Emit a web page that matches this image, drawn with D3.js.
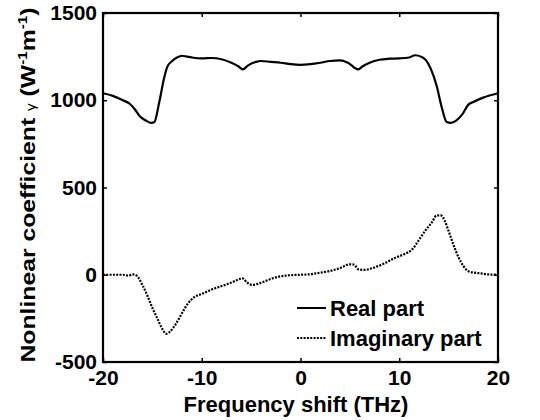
<!doctype html>
<html>
<head>
<meta charset="utf-8">
<title>Nonlinear coefficient</title>
<script src="https://d3js.org/d3.v7.min.js"></script>
<style>
body { margin: 0; background: white; }
text { font-family: "Liberation Sans", Arial, sans-serif; font-weight: bold; fill: black; }
</style>
</head>
<body>
<div id="chart"></div>
<script>
// frequency shift (THz) and gamma values
var realFreq = [-20, -19, -18, -17.3, -16.8, -16.3, -15.7, -15.1, -14.8, -14.3, -13.8, -13.5, -13, -12.5, -12, -11.5, -11, -10, -9, -8, -7, -6.3, -5.85, -5.3, -4.5, -4, -3, -2, -1, 0,
  1, 2, 3, 4, 4.8, 5.85, 6.3, 7, 8, 9, 10, 11, 11.6, 12.2, 12.7, 13.2, 13.8, 14.3, 14.8, 15.2, 15.8, 16.4, 17, 17.5, 18.5, 20];
var realVal = [1040, 1025, 1000, 980, 950, 910, 885, 870, 875, 990, 1130, 1190, 1225, 1245, 1255, 1250, 1245, 1240, 1242, 1235, 1215, 1195, 1177, 1200, 1220, 1225, 1220, 1215, 1207, 1203,
  1207, 1215, 1225, 1228, 1215, 1177, 1195, 1215, 1232, 1238, 1240, 1245, 1258, 1250, 1230, 1180, 1080, 960, 875, 870, 885, 920, 975, 990, 1015, 1040];

var imagFreq = [-20, -18, -17.4, -17, -16.6, -16, -15.5, -15, -14.5, -14, -13.6, -13.2, -12.6, -12, -11.4, -10.8, -10, -9, -8, -7, -6.2, -5.9, -5.4, -4.9, -4.3, -3.5, -2.5, -1.5, 0,
  1, 2, 3, 4, 5, 5.4, 5.9, 6.5, 7.5, 8.5, 9.5, 10.5, 11.3, 12, 12.6, 13.3, 13.8, 14.2, 14.6, 15, 15.5, 16, 16.5, 17, 17.6, 18.3, 19, 20];
var imagVal = [0, 0, -5, 2, -5, -60, -120, -190, -250, -310, -338, -325, -280, -220, -165, -130, -110, -85, -65, -45, -25, -20, -45, -58, -52, -35, -15, -5, 0,
  3, 12, 22, 38, 60, 58, 30, 28, 42, 65, 95, 118, 145, 200, 250, 300, 340, 340, 310, 250, 170, 100, 50, 20, 12, 8, 2, 0];

var xTicks = [-20, -10, 0, 10, 20];
var yTicks = [-500, 0, 500, 1000, 1500];
var legendNames = ["Real part", "Imaginary part"];

var W = 540, H = 420;
var m = { left: 103, right: 498, top: 13, bottom: 362 };

var svg = d3.select("#chart").append("svg")
  .attr("width", W)
  .attr("height", H);

var x = d3.scaleLinear().domain([-20, 20]).range([m.left, m.right]);
var y = d3.scaleLinear().domain([-500, 1500]).range([m.bottom, m.top]);

var line = d3.line()
  .x(function(d) { return x(d[0]); })
  .y(function(d) { return y(d[1]); })
  .curve(d3.curveMonotoneX);

var real = d3.zip(realFreq, realVal);
var imag = d3.zip(imagFreq, imagVal);

svg.append("path")
  .datum(real)
  .attr("d", line)
  .attr("fill", "none")
  .attr("stroke", "black")
  .attr("stroke-width", 2.2);

svg.append("path")
  .datum(imag)
  .attr("d", line)
  .attr("fill", "none")
  .attr("stroke", "black")
  .attr("stroke-width", 2.2)
  .attr("stroke-dasharray", "2,1.3");

// inside ticks on all four sides
var tl = 4;
var fmt = function(d) { return String(d); };
var styleTicks = function(g) {
  g.select(".domain").remove();
  g.selectAll("line").attr("stroke-width", 1.5);
  g.selectAll("text")
    .attr("font-size", 21)
    .attr("font-family", "Liberation Sans, Arial, sans-serif")
    .attr("font-weight", "bold")
    .attr("fill", "black");
};
svg.append("g")
  .attr("transform", "translate(0," + m.bottom + ")")
  .call(d3.axisBottom(x).tickValues(xTicks).tickSizeInner(-tl).tickSizeOuter(0).tickPadding(8).tickFormat(fmt))
  .call(styleTicks);
svg.append("g")
  .attr("transform", "translate(0," + m.top + ")")
  .call(d3.axisTop(x).tickValues(xTicks).tickSizeInner(-tl).tickSizeOuter(0).tickFormat(""))
  .call(styleTicks);
svg.append("g")
  .attr("transform", "translate(" + m.left + ",0)")
  .call(d3.axisLeft(y).tickValues(yTicks).tickSizeInner(-tl).tickSizeOuter(0).tickPadding(6).tickFormat(fmt))
  .call(styleTicks);
svg.append("g")
  .attr("transform", "translate(" + m.right + ",0)")
  .call(d3.axisRight(y).tickValues(yTicks).tickSizeInner(-tl).tickSizeOuter(0).tickFormat(""))
  .call(styleTicks);

svg.append("rect")
  .attr("x", m.left).attr("y", m.top)
  .attr("width", m.right - m.left).attr("height", m.bottom - m.top)
  .attr("fill", "none")
  .attr("stroke", "black")
  .attr("stroke-width", 2.2);

// axis titles
svg.append("text")
  .attr("x", 296)
  .attr("y", 412)
  .attr("text-anchor", "middle")
  .attr("font-size", 22)
  .text("Frequency shift (THz)");

// the y title is drawn stretched along its length, as in the original
var yl = svg.append("text")
  .attr("transform", "translate(35,185) rotate(-90) scale(1.27,1)")
  .attr("text-anchor", "middle")
  .attr("font-size", 19.5);
yl.append("tspan").text("Nonlinear coefficient  ");
yl.append("tspan").attr("font-size", 12).attr("font-weight", "normal").text("γ");
yl.append("tspan").text(" (W");
yl.append("tspan").attr("font-size", 12).attr("dy", -8).text("-1");
yl.append("tspan").attr("dy", 8).text("m");
yl.append("tspan").attr("font-size", 12).attr("dy", -8).text("-1");
yl.append("tspan").attr("dy", 8).text(")");

// legend
var legend = svg.append("g");
legendNames.forEach(function(name, i) {
  var ly = 308 + i * 30;
  legend.append("line")
    .attr("x1", 297).attr("x2", 326)
    .attr("y1", ly).attr("y2", ly)
    .attr("stroke", "black")
    .attr("stroke-width", 2)
    .attr("stroke-dasharray", i === 1 ? "2,1.3" : null);
  legend.append("text")
    .attr("x", 330)
    .attr("y", ly + 8)
    .attr("font-size", 22)
    .text(name);
});
</script>
</body>
</html>
